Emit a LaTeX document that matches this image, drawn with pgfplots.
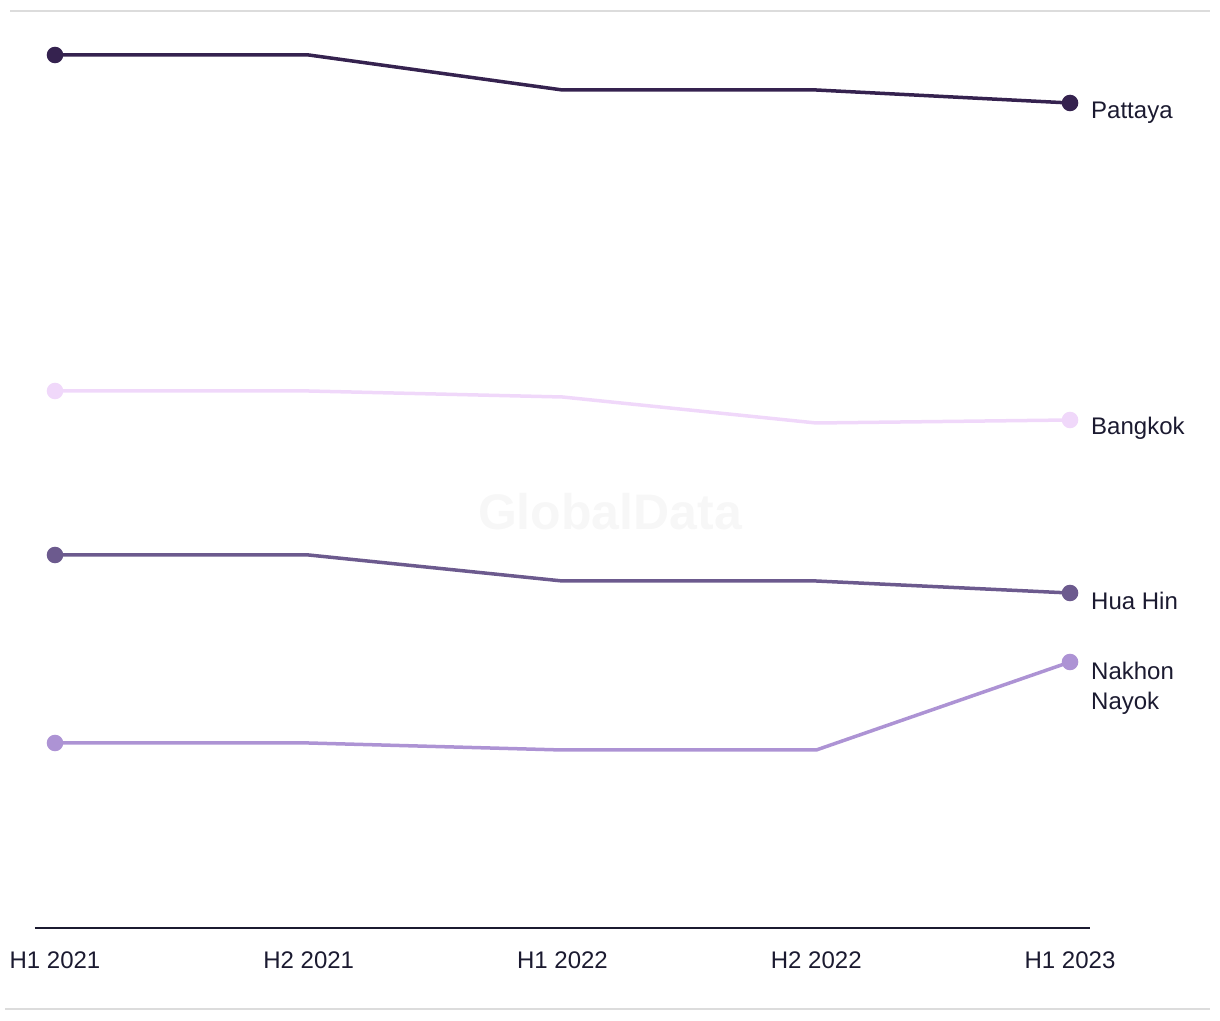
\documentclass[border=0pt]{standalone}
\usepackage{pgfplots}
\pgfplotsset{compat=1.18}
\usepackage{fontspec}
\setmainfont{Liberation Sans}
\definecolor{txt}{HTML}{1B1A30}
\definecolor{cPat}{HTML}{35224F}
\definecolor{cBkk}{HTML}{F0D8FA}
\definecolor{cHua}{HTML}{6C5A8E}
\definecolor{cNak}{HTML}{AD93D4}
\definecolor{grid}{HTML}{DCDCDC}
\begin{document}
\begin{tikzpicture}[x=1pt,y=1pt]
\path (0,0) rectangle (1220,1020);
\draw[grid, line width=2pt] (10,1009) -- (1210,1009);
\draw[grid, line width=2pt] (5,11.5) -- (1210,11.5);
\node[text=black!3, font=\fontsize{50}{60}\selectfont\bfseries] at (610,508) {GlobalData};
\begin{axis}[
  at={(35pt,92pt)}, anchor=south west,
  scale only axis, width=1055pt, height=917pt,
  xmin=-0.0788, xmax=4.0788, ymin=0, ymax=917,
  axis x line=bottom, axis y line=none,
  x axis line style={-, txt, line width=1.6pt},
  xtick={0,1,2,3,4},
  xticklabels={H1 2021,H2 2021,H1 2022,H2 2022,H1 2023},
  major tick length=0pt,
  xticklabel style={font=\fontsize{24}{29}\selectfont, text=txt, anchor=north, yshift=-20pt},
  clip=false,
  every axis plot/.append style={line width=3.5pt},
]
\addplot[cPat] coordinates {(0,873) (1,873) (2,838) (3,838) (4,825)};
\addplot[cBkk] coordinates {(0,537) (1,537) (2,531) (3,505) (4,508)};
\addplot[cHua] coordinates {(0,373) (1,373) (2,347) (3,347) (4,335)};
\addplot[cNak] coordinates {(0,185) (1,185) (2,178) (3,178) (4,266)};
\addplot[only marks, mark=*, mark size=6.5pt, cPat, mark options={fill=cPat, draw=none}] coordinates {(0,873) (4,825)};
\addplot[only marks, mark=*, mark size=6.5pt, cBkk, mark options={fill=cBkk, draw=none}] coordinates {(0,537) (4,508)};
\addplot[only marks, mark=*, mark size=6.5pt, cHua, mark options={fill=cHua, draw=none}] coordinates {(0,373) (4,335)};
\addplot[only marks, mark=*, mark size=6.5pt, cNak, mark options={fill=cNak, draw=none}] coordinates {(0,185) (4,266)};
\begin{scope}[every node/.style={anchor=west, text=txt, font=\fontsize{24}{30}\selectfont, inner sep=0pt, xshift=21pt, yshift=-8pt}]
\node[yshift=-2pt] at (axis cs:4,825) {Pattaya};
\node at (axis cs:4,508) {Bangkok};
\node at (axis cs:4,335) {Hua Hin};
\node[anchor=north west, align=left, yshift=8pt] at (axis cs:4,266) {Nakhon\\Nayok};
\end{scope}
\end{axis}
\end{tikzpicture}
\end{document}
